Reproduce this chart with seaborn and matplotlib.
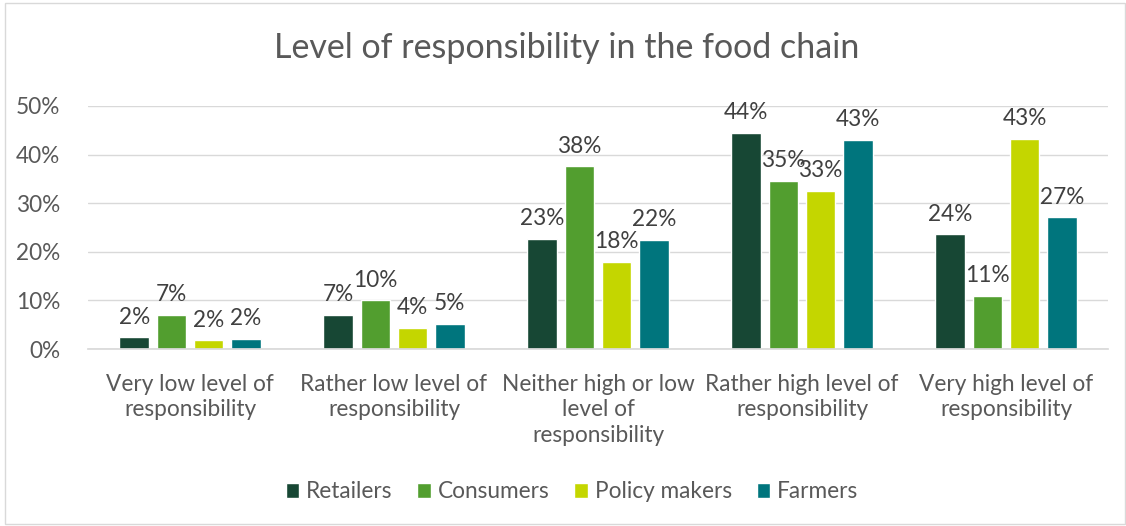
import matplotlib
matplotlib.use("Agg")
import matplotlib.pyplot as plt
import seaborn as sns
import pandas as pd
from matplotlib.patches import Rectangle

categories = ["Very low level of\nresponsibility", "Rather low level of\nresponsibility",
              "Neither high or low\nlevel of\nresponsibility", "Rather high level of\nresponsibility",
              "Very high level of\nresponsibility"]
series = ["Retailers", "Consumers", "Policy makers", "Farmers"]
retailers = [2.4, 7.0, 22.7, 44.5, 23.6]
consumers = [7.0, 10.0, 37.6, 34.6, 10.9]
policy_makers = [1.8, 4.4, 18.0, 32.6, 43.3]
farmers = [2.1, 5.2, 22.4, 43.1, 27.1]
colors = ["#174734", "#529E2F", "#C4D600", "#00757D"]
yticks = [0, 10, 20, 30, 40, 50]

rows = []
for s, vals in zip(series, [retailers, consumers, policy_makers, farmers]):
    for c, v in zip(categories, vals):
        rows.append({"category": c, "series": s, "value": v})
df = pd.DataFrame(rows)

sns.set_theme(style="white")
plt.rcParams['font.family'] = ['Lato', 'DejaVu Sans']

FS = 16.3
fig = plt.figure(figsize=(11.26, 5.26), dpi=100)
ax = fig.add_axes([88/1126, 1-349/526, (1108-88)/1126, (349-106)/526])

sns.barplot(data=df, x="category", y="value", hue="series", palette=colors,
            order=categories, hue_order=series, width=0.73, gap=0.21,
            ax=ax, legend=True, saturation=1)

for cont in ax.containers:
    ax.bar_label(cont, labels=[f"{round(b.get_height()):.0f}%" for b in cont],
                 padding=7, fontsize=FS, color="#404040")

ax.set_ylim(0, 50)
ax.set_yticks(yticks)
ax.set_yticklabels([f"{t}%" for t in yticks], fontsize=FS, color="#595959")
ax.set_xlim(-0.5, 4.5)
ax.tick_params(axis='x', labelsize=FS, labelcolor="#595959", pad=18, length=0)
for lbl in ax.get_xticklabels():
    lbl.set_linespacing(1.25)
ax.tick_params(axis='y', length=0, pad=20)
ax.set_xlabel("")
ax.set_ylabel("")
ax.yaxis.grid(True, color="#D9D9D9", linewidth=1)
ax.set_axisbelow(True)
for sp in ["top", "right", "left"]:
    ax.spines[sp].set_visible(False)
ax.spines["bottom"].set_color("#D9D9D9")

fig.text(0.503, 1-48/526, "Level of responsibility in the food chain", ha="center", va="center",
         fontsize=24.5, color="#595959")

ax.legend(loc="center", bbox_to_anchor=(0.508, 1-492/526), bbox_transform=fig.transFigure,
          ncol=4, frameon=False, fontsize=FS, labelcolor="#595959",
          handlelength=0.6, handleheight=0.6, handletextpad=0.3, columnspacing=1.1)

fig.patches.append(Rectangle((5/1126, 2/526), 1120/1126, 521/526, transform=fig.transFigure,
                             fill=False, edgecolor="#D9D9D9", linewidth=1))

fig.savefig("out.png", dpi=100)
